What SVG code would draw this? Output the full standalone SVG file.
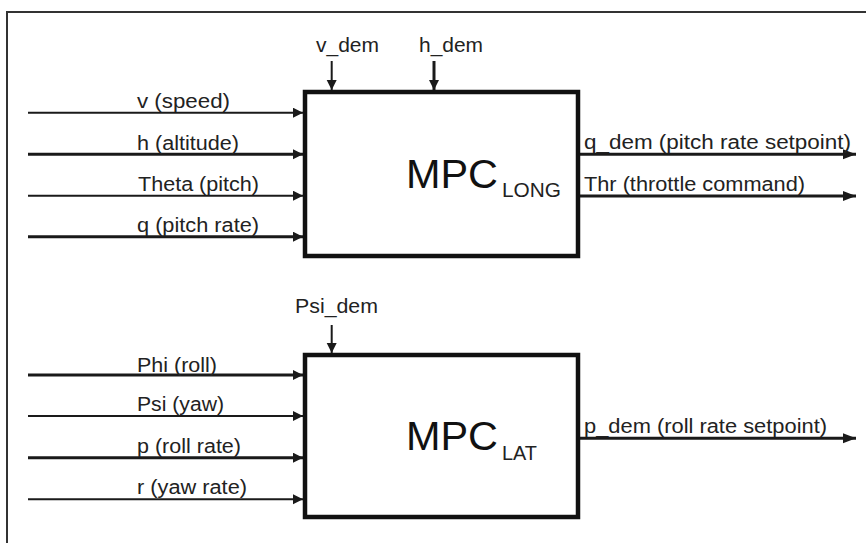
<svg xmlns="http://www.w3.org/2000/svg" width="866" height="543" viewBox="0 0 866 543">
<style>
.t{font-family:"Liberation Sans",Arial,sans-serif;font-size:20px;fill:#222}
.big{font-family:"Liberation Sans",Arial,sans-serif;font-size:41px;fill:#111}
.sub{font-family:"Liberation Sans",Arial,sans-serif;font-size:20px;fill:#222}
.box{fill:#fff;stroke:#111;stroke-width:4.5}
.c{stroke:#1a1a1a;fill:none}
.thin{stroke-width:2}
.thick{stroke-width:3}
.frame{stroke:#333;stroke-width:2;fill:none}
</style>
<defs>
<marker id="ah" markerUnits="userSpaceOnUse" markerWidth="11" markerHeight="11" refX="10" refY="5" orient="auto">
<path d="M0,0 L10,5 L0,10 Z" fill="#1a1a1a"/>
</marker>
<marker id="ahOut" markerUnits="userSpaceOnUse" markerWidth="14" markerHeight="11" refX="13" refY="5" orient="auto">
<path d="M0,0 L13,5 L0,10 Z" fill="#1a1a1a"/>
</marker>
</defs>
<rect width="866" height="543" fill="#fff"/>
<path class="frame" d="M7,543 V12 H866"/>

<g id="connectors">
<line class="c thin" x1="28" y1="112.7" x2="303" y2="112.7" marker-end="url(#ah)"/>
<line class="c thick" x1="28" y1="154.3" x2="303" y2="154.3" marker-end="url(#ah)"/>
<line class="c thin" x1="28" y1="195.7" x2="303" y2="195.7" marker-end="url(#ah)"/>
<line class="c thick" x1="28" y1="236.7" x2="303" y2="236.7" marker-end="url(#ah)"/>
<line class="c thin" x1="331.7" y1="61" x2="331.7" y2="90" marker-end="url(#ah)"/>
<line class="c thick" x1="434" y1="61" x2="434" y2="90" marker-end="url(#ah)"/>
<line class="c thick" x1="578" y1="154.3" x2="856" y2="154.3" marker-end="url(#ahOut)"/>
<line class="c thick" x1="578" y1="196" x2="856" y2="196" marker-end="url(#ahOut)"/>

<line class="c thick" x1="28" y1="375" x2="303" y2="375" marker-end="url(#ah)"/>
<line class="c thin" x1="28" y1="416" x2="303" y2="416" marker-end="url(#ah)"/>
<line class="c thick" x1="28" y1="457.7" x2="303" y2="457.7" marker-end="url(#ah)"/>
<line class="c thin" x1="28" y1="499.3" x2="303" y2="499.3" marker-end="url(#ah)"/>
<line class="c thin" x1="331.7" y1="325" x2="331.7" y2="353" marker-end="url(#ah)"/>
<line class="c thick" x1="578" y1="438.3" x2="856" y2="438.3" marker-end="url(#ahOut)"/>
</g>

<g id="labels">
<text class="t" x="137" y="108" textLength="93" lengthAdjust="spacingAndGlyphs">v (speed)</text>
<text class="t" x="137" y="150" textLength="102" lengthAdjust="spacingAndGlyphs">h (altitude)</text>
<text class="t" x="138" y="191" textLength="121" lengthAdjust="spacingAndGlyphs">Theta (pitch)</text>
<text class="t" x="137" y="232" textLength="122" lengthAdjust="spacingAndGlyphs">q (pitch rate)</text>
<text class="t" x="316" y="52" textLength="63" lengthAdjust="spacingAndGlyphs">v_dem</text>
<text class="t" x="419" y="52" textLength="64" lengthAdjust="spacingAndGlyphs">h_dem</text>
<text class="t" x="584" y="149" textLength="267" lengthAdjust="spacingAndGlyphs">q_dem (pitch rate setpoint)</text>
<text class="t" x="584" y="191" textLength="221" lengthAdjust="spacingAndGlyphs">Thr (throttle command)</text>

<text class="t" x="137" y="371.5" textLength="80" lengthAdjust="spacingAndGlyphs">Phi (roll)</text>
<text class="t" x="137" y="411" textLength="87" lengthAdjust="spacingAndGlyphs">Psi (yaw)</text>
<text class="t" x="137" y="452.5" textLength="104" lengthAdjust="spacingAndGlyphs">p (roll rate)</text>
<text class="t" x="137" y="494" textLength="110" lengthAdjust="spacingAndGlyphs">r (yaw rate)</text>
<text class="t" x="295" y="313" textLength="83" lengthAdjust="spacingAndGlyphs">Psi_dem</text>
<text class="t" x="584" y="433" textLength="243" lengthAdjust="spacingAndGlyphs">p_dem (roll rate setpoint)</text>
</g>

<g id="mpc-long">
<rect class="box" x="305" y="92" width="273" height="164"/>
<text class="big" x="406" y="188" textLength="92" lengthAdjust="spacingAndGlyphs">MPC</text>
<text class="sub" x="502" y="197" textLength="59" lengthAdjust="spacingAndGlyphs">LONG</text>
</g>

<g id="mpc-lat">
<rect class="box" x="305" y="355" width="273" height="162"/>
<text class="big" x="406" y="450" textLength="92" lengthAdjust="spacingAndGlyphs">MPC</text>
<text class="sub" x="502" y="460" textLength="35" lengthAdjust="spacingAndGlyphs">LAT</text>
</g>
</svg>
